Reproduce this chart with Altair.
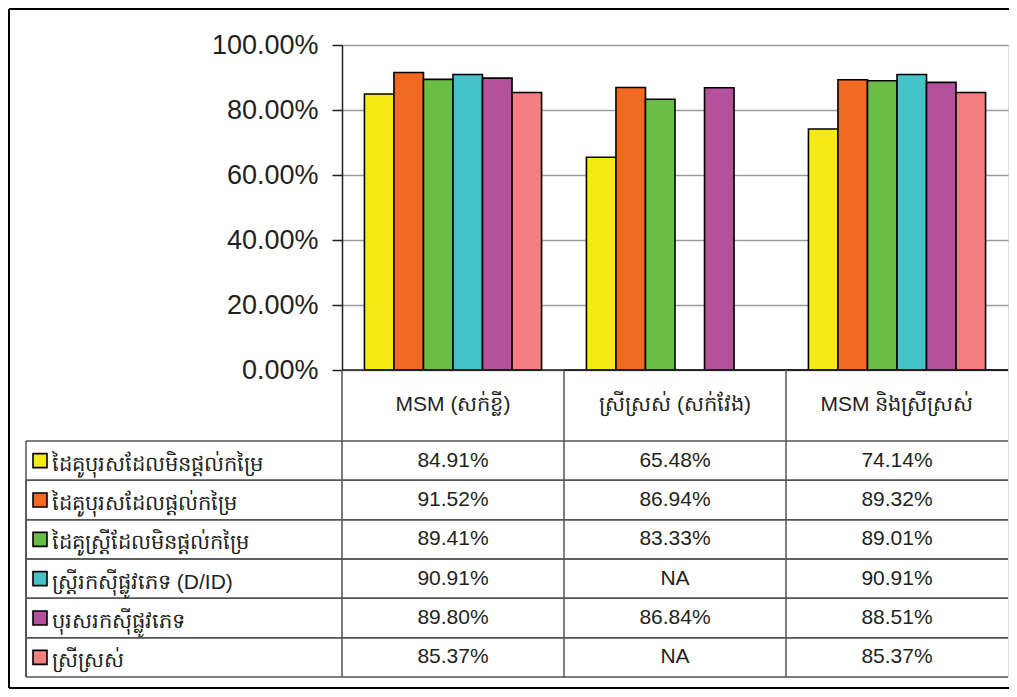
import altair as alt
import pandas as pd

categories = ["MSM (សក់ខ្លី)", "ស្រីស្រស់ (សក់វែង)", "MSM និងស្រីស្រស់"]
series = [
    "ដៃគូបុរសដែលមិនផ្តល់កម្រៃ",
    "ដៃគូបុរសដែលផ្តល់កម្រៃ",
    "ដៃគូស្ត្រីដែលមិនផ្តល់កម្រៃ",
    " ស្ត្រីរកស៊ីផ្លូវភេទ (D/ID)",
    "បុរសរកស៊ីផ្លូវភេទ",
    "ស្រីស្រស់",
]
colors = ["#f5ea14", "#f26a22", "#6cbd45", "#46c3c8", "#b5519c", "#f47f80"]

msm_short = [0.8491, 0.9152, 0.8941, 0.9091, 0.8980, 0.8537]
tg_long = [0.6548, 0.8694, 0.8333, None, 0.8684, None]
msm_tg = [0.7414, 0.8932, 0.8901, 0.9091, 0.8851, 0.8537]

rows = []
for cat, vals in zip(categories, [msm_short, tg_long, msm_tg]):
    for s, v in zip(series, vals):
        rows.append({
            "category": cat,
            "series": s,
            "value": v,
            "label": f"{v * 100:.2f}%" if v is not None else "NA",
        })
df = pd.DataFrame(rows)
ser_df = pd.DataFrame({"series": series})
cat_df = pd.DataFrame({"category": categories})

FONT = "Liberation Sans"
W, H = 666, 632
PLOT_H = 325
TAB_TOP, TAB_BOT = 396, 632
LEFT = -316

xscale = alt.Scale(domain=categories, paddingInner=0, paddingOuter=0)
yscale_bar = alt.Scale(domain=[0, 1], range=[PLOT_H, 0], nice=False)
yscale_tab = alt.Scale(type="band", domain=series, range=[TAB_TOP, TAB_BOT],
                       paddingInner=0, paddingOuter=0)
cscale = alt.Scale(domain=series, range=colors)

base = alt.Chart(df)

bars = base.transform_filter("isValid(datum.value)").mark_bar(
    stroke="black", strokeWidth=1.6
).encode(
    x=alt.X("category:N", scale=xscale, axis=None, sort=categories),
    xOffset=alt.XOffset("series:N", sort=series,
                        scale=alt.Scale(domain=series, paddingInner=0, paddingOuter=0.76)),
    y=alt.Y("value:Q", scale=yscale_bar, title=None,
            axis=alt.Axis(format=".2%", values=[0, 0.2, 0.4, 0.6, 0.8, 1.0],
                          labelFont=FONT, labelFontSize=27, labelColor="#231f20",
                          labelPadding=14, tickSize=10, tickColor="#231f20",
                          tickWidth=1.5, domainColor="#231f20", domainWidth=1.5,
                          gridColor="#9a9a9a", gridWidth=1.6, grid=True)),
    color=alt.Color("series:N", scale=cscale, legend=None),
)

zero_line = alt.Chart(cat_df).mark_rule(color="#231f20", strokeWidth=1.5).encode(
    x=alt.X("category:N", scale=xscale, axis=None, bandPosition=0),
    x2=alt.value(W),
    y=alt.datum(0, scale=yscale_bar, axis=None),
)

col_lines = alt.Chart(cat_df).mark_rule(color="#555555", strokeWidth=1.5).encode(
    x=alt.X("category:N", scale=xscale, axis=None, bandPosition=0),
    y=alt.value(PLOT_H),
    y2=alt.value(TAB_BOT),
)

header = alt.Chart(cat_df).mark_text(
    font=FONT, fontSize=21, color="#231f20", baseline="middle"
).encode(
    x=alt.X("category:N", scale=xscale, axis=None),
    y=alt.value(360),
    text="category:N",
)

cells = base.mark_text(font=FONT, fontSize=21, color="#231f20", baseline="middle").encode(
    x=alt.X("category:N", scale=xscale, axis=None),
    y=alt.Y("series:N", scale=yscale_tab, axis=None),
    text="label:N",
)

row_top = alt.Chart(ser_df).mark_rule(color="#555555", strokeWidth=1.5).encode(
    y=alt.Y("series:N", scale=yscale_tab, axis=None, bandPosition=0),
    x=alt.value(LEFT),
    x2=alt.value(W),
)
row_bot = alt.Chart(ser_df).mark_rule(color="#555555", strokeWidth=1.5).encode(
    y=alt.Y("series:N", scale=yscale_tab, axis=None, bandPosition=1),
    x=alt.value(LEFT),
    x2=alt.value(W),
)
left_border = alt.Chart(ser_df).mark_rule(color="#555555", strokeWidth=1.5).encode(
    y=alt.Y("series:N", scale=yscale_tab, axis=None, bandPosition=0),
    y2=alt.value(TAB_BOT),
    x=alt.value(LEFT),
)

swatches = alt.Chart(ser_df).mark_square(
    size=196, stroke="black", strokeWidth=1.6, opacity=1
).encode(
    y=alt.Y("series:N", scale=yscale_tab, axis=None),
    x=alt.value(LEFT + 14),
    color=alt.Color("series:N", scale=cscale, legend=None),
)

row_labels = alt.Chart(ser_df).mark_text(
    font=FONT, fontSize=21, color="#231f20", align="left", baseline="middle", dy=4
).encode(
    y=alt.Y("series:N", scale=yscale_tab, axis=None),
    x=alt.value(LEFT + 26),
    text="series:N",
)

frame_top = alt.Chart(cat_df).mark_rule(color="black", strokeWidth=2).encode(
    x=alt.value(-333), x2=alt.value(W + 2), y=alt.value(-36)
)
frame_left = alt.Chart(cat_df).mark_rule(color="black", strokeWidth=2).encode(
    x=alt.value(-333), y=alt.value(-36), y2=alt.value(643)
)
frame_bot = alt.Chart(cat_df).mark_rule(color="black", strokeWidth=2).encode(
    x=alt.value(-333), x2=alt.value(W + 2), y=alt.value(643)
)

chart = alt.layer(
    bars, zero_line, col_lines, header, cells, row_top, row_bot, left_border,
    swatches, row_labels, frame_top, frame_left, frame_bot,
).resolve_scale(y="independent").properties(
    width=W, height=H,
    padding={"left": 334, "top": 37, "right": 1, "bottom": 12},
    autosize=alt.AutoSizeParams(type="none"),
).configure_view(stroke="#9a9a9a", strokeWidth=1.6).configure(background="white")

chart.save("out.html", embed_options={"renderer": "svg", "actions": False})
